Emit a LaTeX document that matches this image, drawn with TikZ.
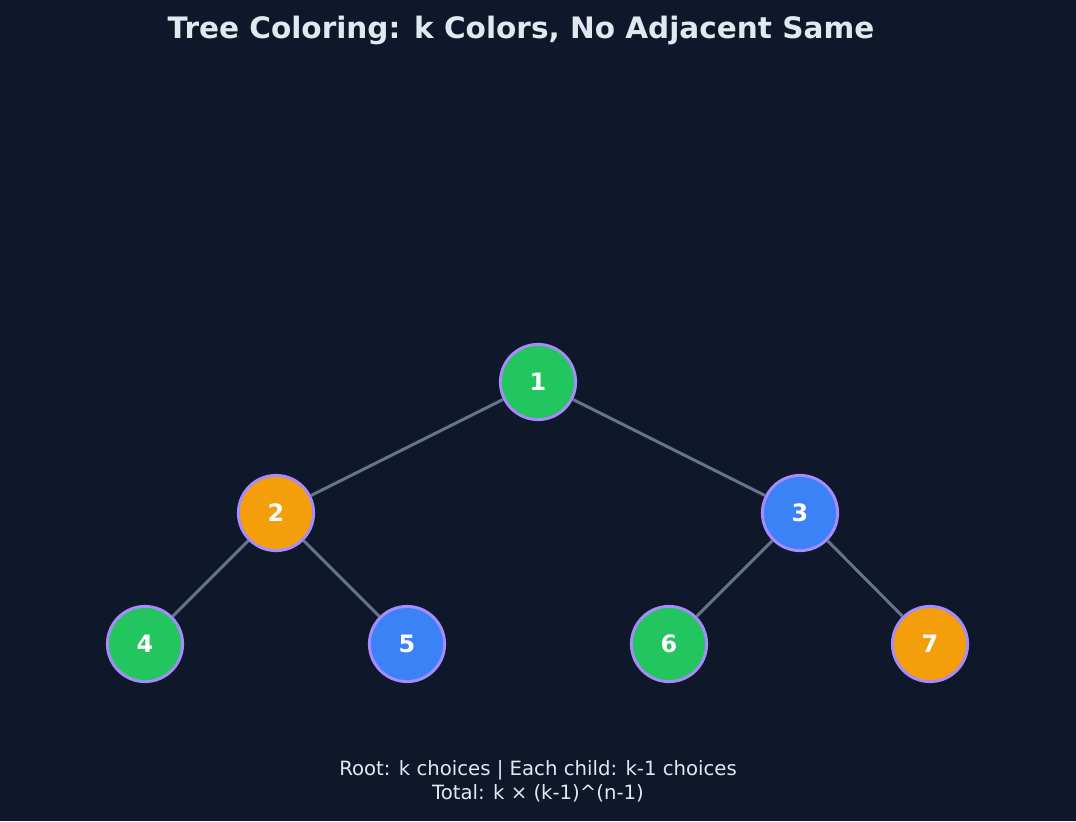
\documentclass[tikz,border=0pt]{standalone}
\usepackage{fontspec}
\setmainfont{DejaVu Sans}
\usetikzlibrary{positioning}
\definecolor{bgdark}{HTML}{0F172A}
\definecolor{txtlight}{HTML}{E2E8F0}
\definecolor{edgegray}{HTML}{64748B}
\definecolor{ringpurple}{HTML}{A78BFA}
\definecolor{cgreen}{HTML}{22C55E}
\definecolor{corange}{HTML}{F59E0B}
\definecolor{cblue}{HTML}{3B82F6}

\begin{document}
\begin{tikzpicture}[x=0.025cm, y=-0.025cm,
    vert/.style={circle, draw=ringpurple, line width=2.1pt, minimum size=1.88cm,
                 inner sep=0pt, text=white, font=\fontsize{17}{20}\selectfont\bfseries},
    link/.style={draw=edgegray, line width=2.1pt}]
    % Background
    \fill[bgdark] (0,0) rectangle (1076,821);

    % Title
    \node[text=txtlight, font=\fontsize{21}{25}\selectfont\bfseries] (title) at (521,30)
        {Tree Coloring: k Colors, No Adjacent Same};

    % Vertices
    \node[vert, fill=cgreen]  (n1) at (538,382) {1};
    \node[vert, fill=corange] (n2) at (276,513) {2};
    \node[vert, fill=cblue]   (n3) at (800,513) {3};
    \node[vert, fill=cgreen]  (n4) at (145,644) {4};
    \node[vert, fill=cblue]   (n5) at (407,644) {5};
    \node[vert, fill=cgreen]  (n6) at (669,644) {6};
    \node[vert, fill=corange] (n7) at (930,644) {7};

    % Edges
    \draw[link] (n1) -- (n2);
    \draw[link] (n1) -- (n3);
    \draw[link] (n2) -- (n4);
    \draw[link] (n2) -- (n5);
    \draw[link] (n3) -- (n6);
    \draw[link] (n3) -- (n7);

    % Caption
    \node[text=txtlight, align=center, font=\fontsize{14}{17}\selectfont] (caption) at (538,781)
        {Root: k choices | Each child: k-1 choices\\Total: k × (k-1)\^{}(n-1)};
\end{tikzpicture}
\end{document}
